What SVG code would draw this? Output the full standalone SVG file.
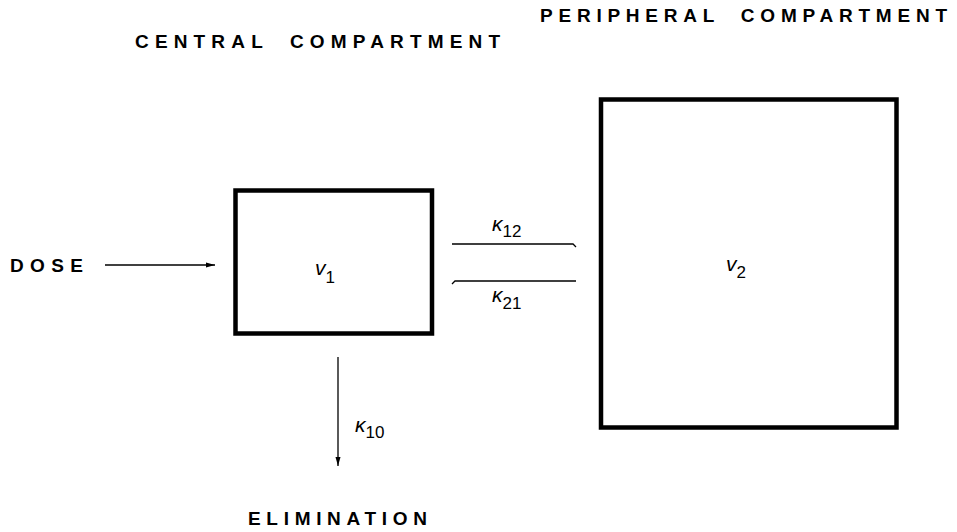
<svg xmlns="http://www.w3.org/2000/svg" width="957" height="532" viewBox="0 0 957 532">
<style>
.lbl{font-family:"Liberation Sans",Arial,sans-serif;font-weight:bold;font-size:19px;fill:#000;word-spacing:10px}
.var{font-family:"Liberation Sans",Arial,sans-serif;font-size:21px;font-style:italic;fill:#000}
.sub{font-size:17px;font-style:normal}
.box{fill:#fff;stroke:#000;stroke-width:4.5}
.ln{fill:none;stroke:#000;stroke-width:1.3}
</style>
<defs>
<marker id="ah" markerWidth="10" markerHeight="8" refX="9" refY="4" orient="auto" markerUnits="userSpaceOnUse">
<path d="M0,1.5 L9,4 L0,6.5 Z" fill="#000"/>
</marker>
</defs>
<rect width="957" height="532" fill="#fff"/>
<text class="lbl" x="540" y="22" textLength="407" lengthAdjust="spacing">PERIPHERAL COMPARTMENT</text>
<text class="lbl" x="135" y="48" textLength="365" lengthAdjust="spacing">CENTRAL COMPARTMENT</text>
<text class="lbl" x="10" y="272" textLength="73" lengthAdjust="spacing">DOSE</text>
<text class="lbl" x="248" y="525" textLength="179" lengthAdjust="spacing">ELIMINATION</text>
<g id="central">
<rect class="box" x="235.5" y="190.5" width="196.5" height="143"/>
<text class="var" x="315" y="275">v<tspan class="sub" dy="8">1</tspan></text>
</g>
<g id="peripheral">
<rect class="box" x="601" y="99.5" width="295.5" height="328"/>
<text class="var" x="726" y="271">v<tspan class="sub" dy="7">2</tspan></text>
</g>
<g id="connectors">
<line class="ln" x1="105" y1="265" x2="215" y2="265" marker-end="url(#ah)"/>
<path class="ln" d="M452,244 L573,244 L576,247"/>
<path class="ln" d="M576,281 L455,281 L452,284"/>
<line class="ln" x1="338" y1="357" x2="338" y2="466" marker-end="url(#ah)"/>
<text class="var" x="492" y="231">κ<tspan class="sub" dy="6">12</tspan></text>
<text class="var" x="492" y="302">κ<tspan class="sub" dy="7">21</tspan></text>
<text class="var" x="355" y="432">κ<tspan class="sub" dy="6">10</tspan></text>
</g>
</svg>
